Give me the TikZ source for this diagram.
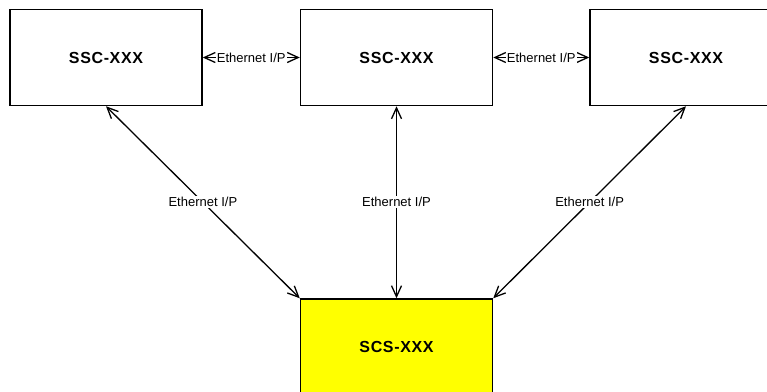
\documentclass[tikz,border=0pt]{standalone}
\usepackage{fontspec}
\setmainfont{Liberation Sans}
\newfontfamily\boxfont[LetterSpace=4]{Liberation Sans}
\usetikzlibrary{arrows.meta, positioning}
\definecolor{scsyellow}{RGB}{255,255,0}

\begin{document}
\begin{tikzpicture}[
  x=1pt, y=-1pt,
  >={Straight Barb[length=11pt, width=10pt]},
  link/.style={draw=black, line width=1.3pt, <->},
  ssc/.style={rectangle, draw=black, line width=1.5pt, fill=white,
    minimum width=192pt, minimum height=96pt, inner sep=0pt,
    font=\boxfont\fontsize{16}{19}\selectfont\bfseries},
  scsbox/.style={ssc, fill=scsyellow},
  lbl/.style={fill=white, inner sep=1pt, font=\fontsize{13}{15}\selectfont},
]

% Frame (the right and bottom boxes run off the page)
\path[use as bounding box, clip] (0,0) rectangle (767,391);

% === Top row: substation controllers ===
\node[ssc] (ssca) at (106,57.5) {SSC-XXX};
\node[ssc, right=97pt of ssca] (sscb) {SSC-XXX};
\node[ssc, right=96pt of sscb] (sscc) {SSC-XXX};

% === Central system ===
\node[scsbox, below=192pt of sscb] (scs) {SCS-XXX};

% Links between controllers
\draw[link] (ssca) -- node[lbl] {Ethernet I/P} (sscb);
\draw[link] (sscb) -- node[lbl] {Ethernet I/P} (sscc);

% Links to central system
\draw[link] (ssca.south) -- node[lbl] {Ethernet I/P} (scs.north west);
\draw[link] (sscb) -- node[lbl] {Ethernet I/P} (scs);
\draw[link] (sscc.south) -- node[lbl] {Ethernet I/P} (scs.north east);

\end{tikzpicture}
\end{document}
